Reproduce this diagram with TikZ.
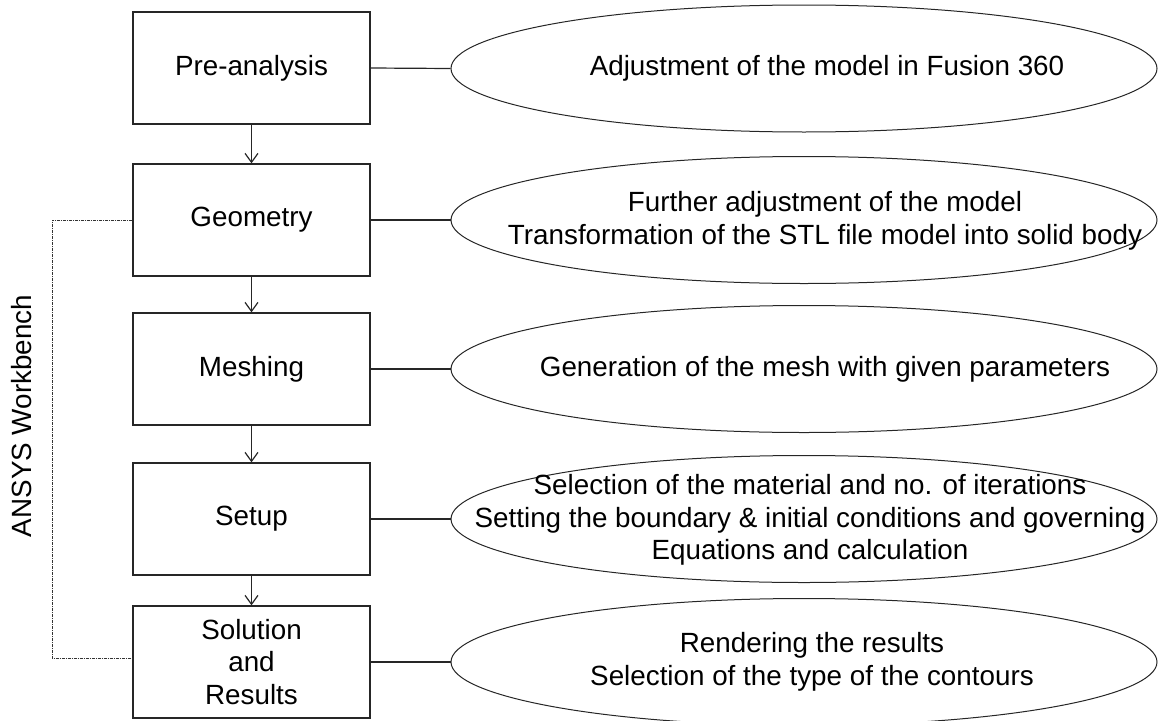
\documentclass[tikz,border=0pt]{standalone}
\usepackage{fontspec}
\setmainfont{Liberation Sans}
\usetikzlibrary{shapes.geometric,arrows.meta}
\begin{document}
\begin{tikzpicture}[x=1pt,y=-1pt,
  every node/.style={font=\fontsize{27.8}{32.5}\selectfont, text=black},
  stepbox/.style={draw=black!85, line width=1.3pt, minimum width=237pt, minimum height=112pt, inner sep=0pt, align=center},
  oval/.style={draw=black!85, line width=1pt, ellipse, minimum width=706pt, minimum height=127pt, inner sep=0pt},
  desc/.style={align=center, inner sep=0pt},
  flow/.style={draw=black!85, line width=1.2pt, -{Straight Barb[length=9pt,width=13pt,line width=1.2pt]}},
  link/.style={draw=black!85, line width=1.2pt},
  group/.style={draw=black!80, line width=1pt, dash pattern=on 3pt off 1pt on 1pt off 1pt}
]
\useasboundingbox (0,0) rectangle (1158,720);
% boxes
\node[stepbox] (b1) at (251.5,68) {Pre-analysis};
\node[stepbox] (b2) at (251.5,220) {Geometry};
\node[stepbox] (b3) at (251.5,369) {Meshing};
\node[stepbox] (b4) at (251.5,519) {Setup};
\node[stepbox] (b5) at (251.5,662) {Solution\\and\\Results};
% ellipses
\node[oval] (e1) at (804,68.5) {};
\node[oval] (e2) at (804,220) {};
\node[oval] (e3) at (804,369) {};
\node[oval] (e4) at (804,519) {};
\node[oval] (e5) at (804,662) {};
% ellipse texts
\node[desc] (t1) at (827,68.5) {Adjustment of the model in Fusion 360};
\node[desc] (t2) at (825,221) {Further adjustment of the model\\Transformation of the STL file model into solid body};
\node[desc] (t3) at (825,369) {Generation of the mesh with given parameters};
\node[desc] (t4) at (810,520) {Selection of the material and no. of iterations\\Setting the boundary \& initial conditions and governing\\Equations and calculation};
\node[desc] (t5) at (812,662) {Rendering the results\\Selection of the type of the contours};
% vertical label
\node[rotate=90, inner sep=0pt] (lab) at (22,416) {ANSYS Workbench};
% flow arrows
\draw[flow] (b1.south) -- (b2.north);
\draw[flow] (b2.south) -- (b3.north);
\draw[flow] (b3.south) -- (b4.north);
\draw[flow] (b4.south) -- (b5.north);
% links to ellipses
\draw[link] (b1.east) -- (e1.west);
\draw[link] (b2.east) -- (e2.west);
\draw[link] (b3.east) -- (e3.west);
\draw[link] (b4.east) -- (e4.west);
\draw[link] (b5.east) -- (e5.west);
% group bracket
\coordinate (g1) at (52,220);
\coordinate (g2) at (52,658);
\draw[group] (b2.west) -- (g1) -- (g2) -- (b5.west |- g2);
\end{tikzpicture}
\end{document}
